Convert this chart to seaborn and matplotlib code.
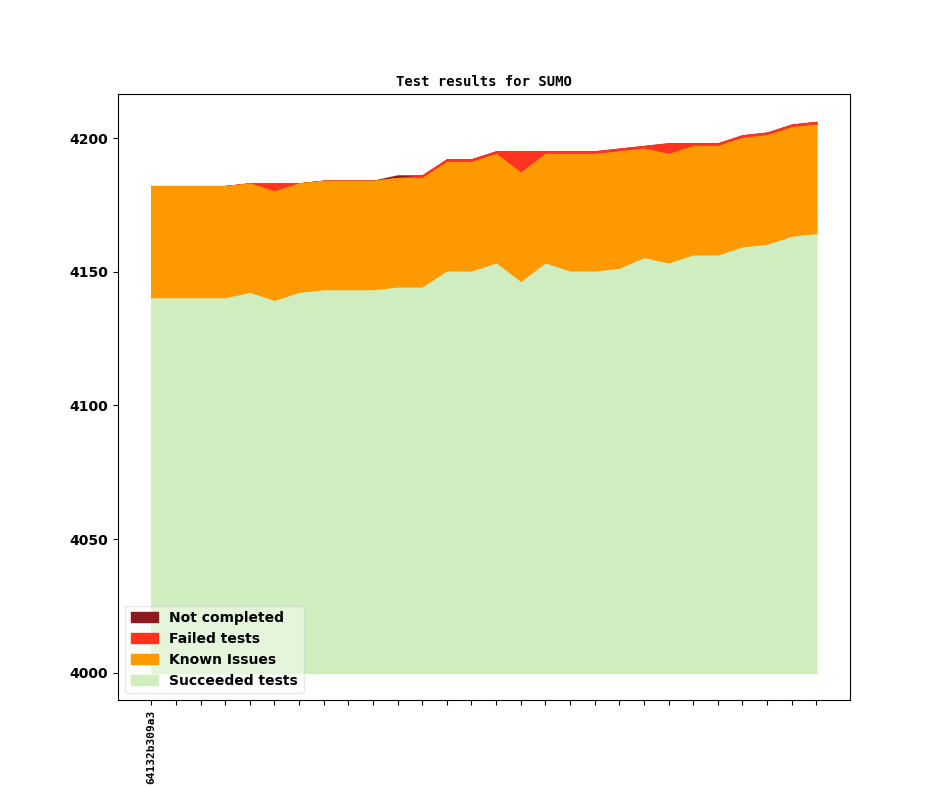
import matplotlib
matplotlib.use('Agg')
import matplotlib.pyplot as plt
import numpy as np
import seaborn as sns

# Builds along the x axis (only the first one is labelled)
builds = ['64132b309a3'] + [''] * 27
base = 4000

# Counts per build
succeeded_top = [4140, 4140, 4140, 4140, 4142, 4139, 4142, 4143, 4143, 4143,
                 4144, 4144, 4150, 4150, 4153, 4146, 4153, 4150, 4150, 4151,
                 4155, 4153, 4156, 4156, 4159, 4160, 4163, 4164]
known_top = [4182, 4182, 4182, 4182, 4183, 4180, 4183, 4184, 4184, 4184,
             4185, 4185, 4191, 4191, 4194, 4187, 4194, 4194, 4194, 4195,
             4196, 4194, 4197, 4197, 4200, 4201, 4204, 4205]
failed = [0, 0, 0, 0, 0, 3, 0, 0, 0, 0,
          0, 1, 1, 1, 1, 8, 1, 1, 1, 1,
          1, 4, 1, 1, 1, 1, 1, 1]
not_completed = [0, 0, 0, 0, 0, 0, 0, 0, 0, 0,
                 1, 0, 0, 0, 0, 0, 0, 0, 0, 0,
                 0, 0, 0, 0, 0, 0, 0, 0]

labels = ['Not completed', 'Failed tests', 'Known Issues', 'Succeeded tests']
colors = sns.color_palette(['#8c1a1e', '#ff3320', '#ff9900', '#cfedbf'])

sns.set_style('ticks', {'axes.edgecolor': 'black', 'xtick.color': 'black',
                        'ytick.color': 'black', 'text.color': 'black',
                        'axes.labelcolor': 'black'})

x = np.arange(len(builds))
succ = np.array(succeeded_top)
known_tot = np.array(known_top)
failed_tot = known_tot + np.array(failed)
all_tot = failed_tot + np.array(not_completed)

# (lower edge, upper edge) for each band, drawn from the top band down
bands = [(known_tot, all_tot), (known_tot, failed_tot),
         (succ, known_tot), (np.full(len(x), base), succ)]

fig, ax = plt.subplots(figsize=(9.44, 7.87), dpi=100)

for (lo, hi), col, lab in zip(bands, colors, labels):
    ax.fill_between(x, lo, hi, color=col, label=lab, linewidth=1)

ax.set_title('Test results for SUMO', fontsize=10, fontweight='bold',
             family='DejaVu Sans Mono')
ax.set_xticks(x)
ax.set_xticklabels(builds, rotation=90, fontsize=8, fontweight='bold',
                   family='DejaVu Sans Mono')
ax.set_yticks([4000, 4050, 4100, 4150, 4200])
for lbl in ax.get_yticklabels():
    lbl.set_fontweight('bold')
    lbl.set_fontsize(10)

ax.legend(loc='lower left', framealpha=0.45,
          prop={'weight': 'bold', 'size': 10})

fig.savefig('out.png', dpi=100)
